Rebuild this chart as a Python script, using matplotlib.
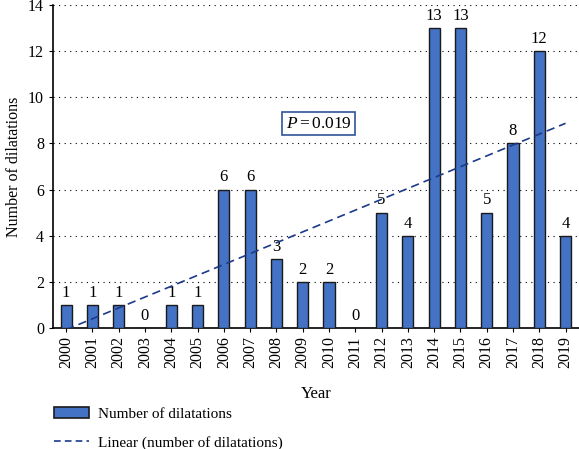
import numpy as np
import matplotlib.pyplot as plt
from matplotlib.patches import Patch
from matplotlib.lines import Line2D

plt.rcParams['font.family'] = ['Liberation Serif', 'DejaVu Serif']
plt.rcParams['mathtext.fontset'] = 'custom'
plt.rcParams['mathtext.it'] = 'Liberation Serif:italic'
plt.rcParams['mathtext.rm'] = 'Liberation Serif'

# datos
years = [str(y) for y in range(2000, 2020)]
dilatations = [1, 1, 1, 0, 1, 1, 6, 6, 3, 2, 2, 0, 5, 4, 13, 13, 5, 8, 12, 4]
p_text = '$P = 0.019$'

x = np.arange(len(years))
fit = np.polyfit(x, dilatations, 1)

fig = plt.figure(figsize=(5.79, 4.49), dpi=100)
ax = fig.add_axes([0.0915, 0.2695, 0.908, 0.7195])

ax.bar(x, dilatations, width=0.42, color='#4472C4', edgecolor='#1a1a1a', linewidth=1, zorder=3)
ax.plot(x, np.polyval(fit, x), linestyle=(0, (5, 3)), color='#1B3A8A', linewidth=1.2, zorder=4)

for xi, v in zip(x, dilatations):
    ax.annotate(str(v), (xi, v), xytext=(0, 3), textcoords='offset points',
                ha='center', va='bottom', fontsize=12)

ax.text(9.6, 8.85, p_text, ha='center', va='center', fontsize=12.5,
        bbox=dict(boxstyle='square,pad=0.2', facecolor='white', edgecolor='#2F5597', linewidth=1.2), zorder=5)

ax.set_xlim(-0.5, 19.5)
ax.set_ylim(0, 14)
ax.set_yticks(range(0, 15, 2))
ax.set_xticks(x)
ax.set_xticklabels(years, rotation=90, fontsize=11.5)
ax.tick_params(axis='y', labelsize=11.5, direction='out', length=3)
ax.tick_params(axis='x', direction='out', length=3, pad=3)
ax.yaxis.grid(True, linestyle=(0, (1, 4)), color='black', linewidth=0.8)
ax.set_axisbelow(True)
for s in ['top', 'right']:
    ax.spines[s].set_visible(False)
ax.spines['left'].set_linewidth(1.2)
ax.spines['bottom'].set_linewidth(1.2)
ax.set_xlabel('Year', fontsize=12, labelpad=13)
ax.set_ylabel('Number of dilatations', fontsize=11.5, labelpad=4)

handles = [Patch(facecolor='#4472C4', edgecolor='#1a1a1a', linewidth=1.2),
           Line2D([0], [0], linestyle=(0, (4, 2.5)), color='#1B3A8A', linewidth=1.2)]
fig.legend(handles, ['Number of dilatations', 'Linear (number of dilatations)'],
           loc='upper left', bbox_to_anchor=(0.093, 0.093), frameon=False, fontsize=11,
           handlelength=2.3, handleheight=0.75, handletextpad=0.6, labelspacing=0.95,
           borderaxespad=0, borderpad=0)

fig.savefig('out.png', dpi=100)
